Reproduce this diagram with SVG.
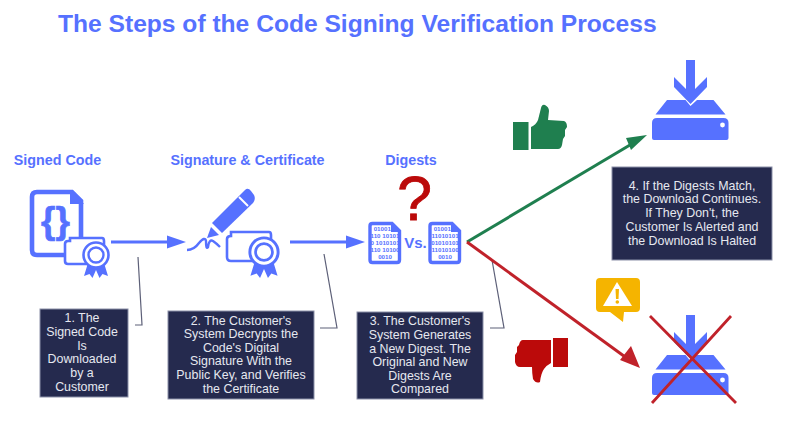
<svg xmlns="http://www.w3.org/2000/svg" width="802" height="424" viewBox="0 0 802 424">
  <style>
    text { font-family: "Liberation Sans", Arial, sans-serif; }
    .title { font-size: 24.6px; font-weight: 700; fill: #5671ff; }
    .head { font-size: 14.3px; font-weight: 700; fill: #5671ff; text-anchor: middle; }
    .box { fill: #252a4e; stroke: #8b90a8; stroke-width: 1; }
    .note { font-size: 12.4px; fill: #e6e8f0; text-anchor: middle; }
    .leader { fill: none; stroke: #5d6078; stroke-width: 1.2; }
    .blue { fill: #5671ff; }
    .bits { font-size: 6.2px; font-weight: 700; fill: #5671ff; text-anchor: middle; }
  </style>
  <defs>
    <clipPath id="sheet"><rect x="-14" y="-18" width="28" height="38"/></clipPath>
    <g id="seal">
      <path class="blue" d="M-8 8 L-12 21 L-6.500 19 L-3.500 23 L0 15 L3.500 23 L6.500 19 L12 21 L8 8 Z"/>
      <circle r="12.500" fill="#fff" stroke="#5671ff" stroke-width="2.600"/>
      <circle r="7.500" fill="#fff" stroke="#5671ff" stroke-width="2.400"/>
    </g>
    <g id="sheet-icon">
      <path d="M-12.500 -19.500 H7 L14.500 -12 V17 Q14.500 19.500 12 19.500 H-12.500 Q-15 19.500 -15 17 V-17 Q-15 -19.500 -12.500 -19.500 Z" fill="#fff" stroke="#5671ff" stroke-width="3.400"/>
      <path class="blue" d="M6 -20 L15 -11 H6 Z"/>
    </g>
    <g id="drive">
      <path class="blue" d="M-4.500 -45 H4.500 V-16 L16.500 -28 V-18 L0 -1 L-16.500 -18 V-28 L-4.500 -16 Z"/>
      <path class="blue" d="M-23.500 -5 H-5 L0 1 L6.500 -5 H23 L35 9.500 H-35 Z"/>
      <path class="blue" d="M-38.500 18 Q-38.500 13 -33.500 13 H33 Q38 13 38 18 V33 Q38 35 36 35 H-36.500 Q-38.500 35 -38.500 33 Z"/>
      <circle cx="32" cy="20" r="2.400" fill="#fff"/>
    </g>
  </defs>

  <text class="title" x="58" y="32">The Steps of the Code Signing Verification Process</text>
  <text class="head" x="57.500" y="165">Signed Code</text>
  <text class="head" x="247.500" y="165">Signature &amp; Certificate</text>
  <text class="head" x="411" y="165">Digests</text>

  <g id="connectors">
    <path class="leader" d="M138 257 L142 325 H135"/>
    <path class="leader" d="M324 254 L337 328 H320"/>
    <path class="leader" d="M492 260 L504 328 H490"/>
    <path d="M111 242 H170" stroke="#5671ff" stroke-width="2.800" fill="none"/>
    <path class="blue" d="M167 235.500 L186 242 L167 248.500 Z"/>
    <path d="M290 242 H350" stroke="#5671ff" stroke-width="2.800" fill="none"/>
    <path class="blue" d="M346 235.500 L365 242 L346 248.500 Z"/>
    <path d="M467 242 L635 142" stroke="#1f7f4f" stroke-width="3" fill="none"/>
    <path fill="#1f7f4f" d="M647 135 L631 150 L626 138 Z"/>
    <path d="M467 242 L628 359" stroke="#c0222a" stroke-width="3" fill="none"/>
    <path fill="#c0222a" d="M640 368 L620 360 L631 346 Z"/>
  </g>

  <g id="signed-code">
    <path d="M37 192 H72 L81 201 V250 Q81 255 76 255 H37 Q32 255 32 250 V197 Q32 192 37 192 Z" fill="#fff" stroke="#5671ff" stroke-width="4.600"/>
    <path class="blue" d="M70 190 L84 204 H70 Z"/>
    <text x="55.500" y="233" font-size="37" font-weight="700" fill="#5671ff" stroke="#5671ff" stroke-width="0.700" text-anchor="middle">{}</text>
    <path d="M70 241 V238 H102 Q104 238 104 241 V264 H68 Q65 264 65 261 V244 Q65 241 68 241 Z" fill="#fff" stroke="#5671ff" stroke-width="2.600"/>
    <use href="#seal" x="96" y="255"/>
  </g>

  <g id="signature-certificate">
    <path class="blue" d="M212 223 L245 190 Q248 187 251 191 L254 195 Q256 199 253 203 L222 233 Z"/>
    <path d="M239 197 L248 206" stroke="#fff" stroke-width="2" fill="none"/>
    <path class="blue" d="M211 227 L219 235 L207 238 Z"/>
    <path d="M187 250 Q194 250 199 243 Q205 236 206 241 Q206 250 208 247 Q209 239 213 241 Q216 243 220 247" fill="none" stroke="#5671ff" stroke-width="2.400"/>
    <path d="M231 236 V232 H269 Q271 232 271 235 V261 H231 Q227 261 227 257 V239 Q227 236 231 236 Z" fill="#fff" stroke="#5671ff" stroke-width="2.600"/>
    <use href="#seal" transform="translate(264,252) scale(1.130)"/>
  </g>

  <g id="digests">
    <use href="#sheet-icon" x="385" y="243"/>
    <g clip-path="url(#sheet)" transform="translate(385,243)">
      <text class="bits" x="-1" y="-12">010010</text>
      <text class="bits" x="0" y="-5">110 10101</text>
      <text class="bits" x="0" y="2">0 1010101</text>
      <text class="bits" x="0" y="8.500">110 10100</text>
      <text class="bits" x="0" y="16">0010</text>
    </g>
    <text x="415.500" y="248" font-size="15" font-weight="700" fill="#5671ff" text-anchor="middle">Vs.</text>
    <use href="#sheet-icon" x="445" y="243"/>
    <g clip-path="url(#sheet)" transform="translate(445,243)">
      <text class="bits" x="-1" y="-12">010010</text>
      <text class="bits" x="0" y="-5">11010101</text>
      <text class="bits" x="0" y="2">01010101</text>
      <text class="bits" x="0" y="8.500">11010100</text>
      <text class="bits" x="0" y="16">0010</text>
    </g>
    <text x="414.500" y="220" font-size="63" fill="#bb0a0a" stroke="#bb0a0a" stroke-width="0.800" text-anchor="middle">?</text>
  </g>

  <g id="step-1">
    <rect class="box" x="40" y="309" width="88" height="88"/>
    <text class="note"><tspan x="82" y="322">1. The</tspan><tspan x="82" y="336">Signed Code</tspan><tspan x="82" y="350">Is</tspan><tspan x="82" y="363">Downloaded</tspan><tspan x="82" y="377">by a</tspan><tspan x="82" y="391">Customer</tspan></text>
  </g>
  <g id="step-2">
    <rect class="box" x="168" y="311" width="146" height="88"/>
    <text class="note"><tspan x="241" y="325">2. The Customer's</tspan><tspan x="241" y="338">System Decrypts the</tspan><tspan x="241" y="352">Code's Digital</tspan><tspan x="241" y="365">Signature With the</tspan><tspan x="241" y="379">Public Key, and Verifies</tspan><tspan x="241" y="393">the Certificate</tspan></text>
  </g>
  <g id="step-3">
    <rect class="box" x="357" y="312" width="126" height="87"/>
    <text class="note"><tspan x="420" y="325">3. The Customer's</tspan><tspan x="420" y="339">System Generates</tspan><tspan x="420" y="353">a New Digest. The</tspan><tspan x="420" y="366">Original and New</tspan><tspan x="420" y="380">Digests Are</tspan><tspan x="420" y="393">Compared</tspan></text>
  </g>
  <g id="step-4">
    <rect class="box" x="612" y="167" width="160" height="93"/>
    <text class="note"><tspan x="692" y="190">4. If the Digests Match,</tspan><tspan x="692" y="203">the Download Continues.</tspan><tspan x="692" y="217">If They Don't, the</tspan><tspan x="692" y="231">Customer Is Alerted and</tspan><tspan x="692" y="245">the Download Is Halted</tspan></text>
  </g>

  <g id="thumb-up" fill="#1f7f4f">
    <rect x="513" y="122" width="15.500" height="28"/>
    <path d="M531 127 Q536 125 538 120 L541 108 Q542 104 545 105 Q549 107 549 111 L548 120 L564 121 Q567 122 567 127 L565 130 L565 136 L563 139 L562 145 Q561 149 558 149 H531 Z"/>
  </g>
  <g id="thumb-down" fill="#bb0a0a">
    <rect x="553" y="338" width="15" height="29"/>
    <path d="M551 340 H523 Q520 340 519 345 L517 347 V352 L515 355 V362 Q516 367 520 367 H532 Q532 373 533 379 Q536 384 540 382 Q541 373 544 369 Q547 365 551 363 Z"/>
  </g>
  <g id="warning">
    <path fill="#f5b400" d="M600 278 H636 Q640 278 640 282 V308 Q640 312 636 312 H624 L623 322 L610 312 H600 Q596 312 596 308 V282 Q596 278 600 278 Z"/>
    <path fill="#fff" d="M617 282 L632 306 H603 Z"/>
    <path fill="#f5b400" d="M615.500 289 H619 L618.500 299 H616 Z"/>
    <circle cx="617.300" cy="302" r="1.800" fill="#f5b400"/>
  </g>
  <g id="download-ok">
    <use href="#drive" x="690.500" y="105"/>
  </g>
  <g id="download-halted">
    <use href="#drive" x="690.500" y="360"/>
    <path d="M650 316 L736 403 M731 316 L652 403" fill="none" stroke="#c0222a" stroke-width="2.800"/>
  </g>
</svg>
